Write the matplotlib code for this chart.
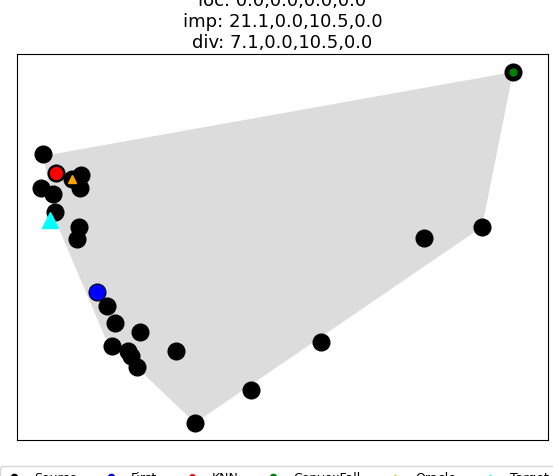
import matplotlib
matplotlib.use('Agg')
import matplotlib.pyplot as plt

# source points (2-d embedding, arbitrary units)
source_x = [4.90, 7.34, 10.36, 12.05, 11.86, 4.52, 6.78, 7.16, 11.68, 11.30,
            15.07, 16.95, 18.46, 23.16, 17.89, 20.90, 21.47, 22.60, 29.94,
            33.52, 44.07, 57.25, 76.65, 87.57, 93.41]
source_y = [74.09, 69.17, 67.62, 68.65, 65.28, 65.28, 63.73, 59.07, 55.18, 52.07,
            38.34, 34.72, 30.31, 27.98, 24.35, 23.06, 21.76, 18.91, 23.06,
            4.40, 12.95, 25.39, 52.33, 55.18, 95.34]

hull_x = [4.90, 93.41, 87.57, 33.52, 16.57, 7.53]
hull_y = [73.58, 95.34, 55.18, 4.40, 26.68, 55.96]

first = (15.07, 38.34)
knn = (7.34, 69.17)
convexfall = (93.41, 95.34)
oracle = (10.36, 67.62)
target = (6.21, 56.99)

title = 'loc: 0.0,0.0,0.0,0.0\nimp: 21.1,0.0,10.5,0.0\ndiv: 7.1,0.0,10.5,0.0'

fig = plt.figure(figsize=(5.53, 4.77), dpi=100)
ax = fig.add_axes([17 / 553, 1 - 441 / 477, 531 / 553, 386 / 477])

ax.fill(hull_x, hull_y, color='gainsboro', lw=0, zorder=1)
ax.plot(source_x, source_y, 'o', color='black', ms=12, ls='none', label='Source', zorder=2)
ax.plot(*first, 'o', color='blue', ms=10.5, label='First', zorder=3)
ax.plot(*knn, 'o', color='red', ms=8.5, label='KNN', zorder=3)
ax.plot(*convexfall, 'o', color='green', ms=5, label='ConvexFall', zorder=3)
ax.plot(*oracle, '^', color='orange', ms=6, label='Oracle', zorder=3)
ax.plot(*target, '^', color='cyan', ms=11, label='Target', zorder=3)

ax.set_xlim(0, 100)
ax.set_ylim(0, 100)
ax.set_xticks([])
ax.set_yticks([])
ax.set_title(title, fontsize=13, pad=5)

leg = fig.legend(loc='upper center', bbox_to_anchor=(277 / 553, 1 - 461 / 477),
                 ncol=6, fontsize=9, handlelength=1.4,
                 handletextpad=0.9, columnspacing=2.05)
for h, ms in zip(leg.legend_handles, [4.5, 4.5, 4, 4.5, 3.5, 3.5]):
    h.set_markersize(ms)

plt.savefig('out.png', dpi=100)
